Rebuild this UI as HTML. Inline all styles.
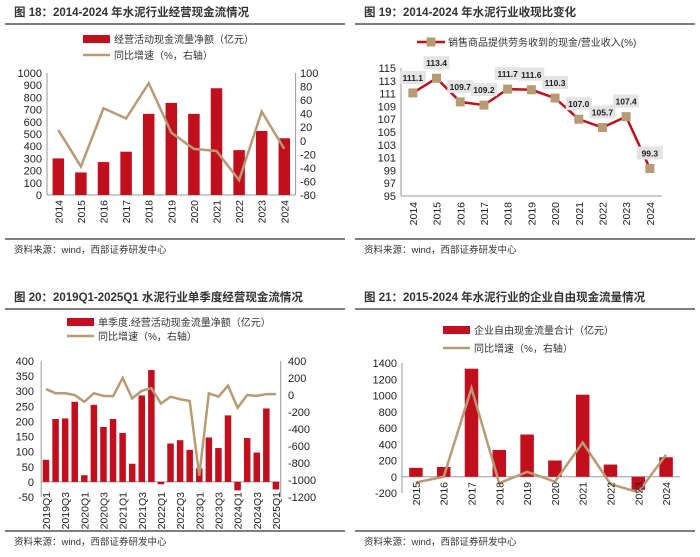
<!DOCTYPE html>
<html><head><meta charset="utf-8"><style>
body{margin:0;background:#fff;}
svg{display:block;font-family:"Liberation Sans","Noto Sans CJK SC",sans-serif;}
</style></head><body>
<svg id="c" width="700" height="557" viewBox="0 0 700 557"></svg>
<script>
// ---- data ----
const years1 = ["2014","2015","2016","2017","2018","2019","2020","2021","2022","2023","2024"];
const cash1 = [300,185,270,355,665,755,665,875,368,525,465];
const growth1 = [16,-38,48,33,85,12,-12,-15,-58,43,-12];
const leftTicks1 = [0,100,200,300,400,500,600,700,800,900,1000];
const rightTicks1 = [-80,-60,-40,-20,0,20,40,60,80,100];

const ratio2 = [111.1,113.4,109.7,109.2,111.7,111.6,110.3,107.0,105.7,107.4,99.3];
const ticks2 = [95,97,99,101,103,105,107,109,111,113,115];

const quarters3 = ["2019Q1","2019Q2","2019Q3","2019Q4","2020Q1","2020Q2","2020Q3","2020Q4","2021Q1","2021Q2","2021Q3","2021Q4","2022Q1","2022Q2","2022Q3","2022Q4","2023Q1","2023Q2","2023Q3","2023Q4","2024Q1","2024Q2","2024Q3","2024Q4","2025Q1"];
const cash3 = [73,208,210,265,22,255,182,208,162,60,286,370,-8,127,138,106,45,147,112,220,-28,145,97,243,-25];
const growth3 = [70,20,20,0,-80,20,-10,-15,200,-40,50,80,-100,-20,-50,-70,-950,20,-20,110,-150,0,-10,10,10];
const leftTicks3 = [-50,0,50,100,150,200,250,300,350,400];
const rightTicks3 = [-1200,-1000,-800,-600,-400,-200,0,200,400];

const years4 = ["2015","2016","2017","2018","2019","2020","2021","2022","2023","2024"];
const fcf4 = [110,120,1330,330,520,200,1010,150,-160,240];
const growth4 = [-70,0,1090,-80,60,-60,420,-90,-190,270];
const ticks4 = [-200,0,200,400,600,800,1000,1200,1400];

const RED="#c20f1e", TAN="#b89a74";
const svg=document.getElementById('c');
const NS="http://www.w3.org/2000/svg";
function mk(tag,attrs,parent){const e=document.createElementNS(NS,tag);for(const k in attrs)e.setAttribute(k,attrs[k]);(parent||svg).appendChild(e);return e;}
function txt(x,y,s,attrs,parent){const t=mk('text',Object.assign({x:x,y:y,'font-size':11,fill:'#222'},attrs||{}),parent);t.textContent=s;return t;}
function lin(d0,d1,r0,r1){return v=>r0+(v-d0)/(d1-d0)*(r1-r0);}

function frame(ox,oy,title,name){
  const g=mk('g',{});
  
  
  const t=txt(ox+14,oy+16,title,{'font-size':11.5,'font-weight':'bold',fill:'#333'},g);
  
  
  mk('line',{x1:ox+5,x2:ox+345,y1:oy+24,y2:oy+24,stroke:'#333','stroke-width':1.3},g);
  return g;
}
function footer(ox,y,g){
  mk('line',{x1:ox+5,x2:ox+345,y1:y,y2:y,stroke:'#333','stroke-width':1.3},g);
  const s=txt(ox+14,y+14,"资料来源：wind，西部证券研发中心",{'font-size':9.5,fill:'#333'},g);
  
  
}
function legend(x,y,type,label,g){
  const lg=mk('g',{},g);
  
  
  if(type==='bar') mk('rect',{x:x,y:y-4,width:27,height:8,fill:RED},lg);
  else if(type==='line') mk('line',{x1:x,x2:x+27,y1:y,y2:y,stroke:TAN,'stroke-width':2.5},lg);
  else {mk('line',{x1:x,x2:x+28,y1:y,y2:y,stroke:RED,'stroke-width':2.5},lg);mk('rect',{x:x+9.5,y:y-4.5,width:9,height:9,fill:TAN},lg);}
  txt(x+31,y+4,label,{'font-size':10,fill:'#333'},lg);
}
function yTicks(ticks,sy,x,anchor,g,name){
  ticks.forEach(v=>{const t=txt(x,sy(v)+4,String(v),{'font-size':11,'text-anchor':anchor},g);
    });
}
function xLabels(labels,cx,y,g,every){
  labels.forEach((l,i)=>{ if(i%every) return;
    const t=txt(0,0,l,{'font-size':10.5,'text-anchor':'end',transform:`translate(${cx(i)+4},${y}) rotate(-90)`},g);
    });
}
function bars(vals,cx,sy,w,g){
  vals.forEach((v,i)=>{const y0=sy(0),y1=sy(v);
    const r=mk('rect',{x:cx(i)-w/2,y:Math.min(y0,y1),width:w,height:Math.abs(y1-y0),fill:RED},g);
    });
}
function line(vals,cx,sy,color,w,g){
  const p=mk('polyline',{points:vals.map((v,i)=>cx(i)+','+sy(v)).join(' '),fill:'none',stroke:color,'stroke-width':w,'stroke-linejoin':'miter'},g);
  
  return p;
}

// ---- Panel 18 ----
(function(){
  const g=frame(0,0,"图 18：2014-2024 年水泥行业经营现金流情况","panel-fig18");
  legend(83,39,'bar',"经营活动现金流量净额（亿元）",g);
  legend(83,55,'line',"同比增速（%，右轴）",g);
  const x0=47,bw=22.6,cx=i=>x0+bw*(i+0.5);
  const sy=lin(0,1000,195,73), sr=lin(-80,100,195,73);
  mk('line',{x1:x0,x2:x0,y1:73,y2:195,stroke:'#999'},g);
  mk('line',{x1:x0+bw*11,x2:x0+bw*11,y1:73,y2:195,stroke:'#999'},g);
  mk('line',{x1:x0,x2:x0+bw*11,y1:195,y2:195,stroke:'#999'},g);
  yTicks(leftTicks1,sy,42,'end',g,'y-left-tick');
  yTicks(rightTicks1,sr,300,'start',g,'y-right-tick');
  bars(cash1,cx,sy,11.5,g);
  line(growth1,cx,sr,TAN,2.5,g);
  xLabels(years1,cx,200,g,1);
  footer(0,239,g);
})();

// ---- Panel 19 ----
(function(){
  const g=frame(350,0,"图 19：2014-2024 年水泥行业收现比变化","panel-fig19");
  legend(417,42,'marker',"销售商品提供劳务收到的现金/营业收入(%)",g);
  const x0=401,bw=23.7,cx=i=>x0+bw*(i+0.5);
  const sy=lin(95,115,196,68);
  mk('line',{x1:x0,x2:x0,y1:68,y2:196,stroke:'#999'},g);
  mk('line',{x1:x0,x2:x0+bw*11,y1:196,y2:196,stroke:'#999'},g);
  yTicks(ticks2,sy,396,'end',g,'y-tick');
  const p=line(ratio2,cx,sy,RED,2.5,g);
  
  ratio2.forEach((v,i)=>{
    const m=mk('rect',{x:cx(i)-4.5,y:sy(v)-4.5,width:9,height:9,fill:TAN},g);
    
    const ly=sy(v)-14;
    mk('rect',{x:cx(i)-13,y:ly-8,width:26,height:13,fill:'#e4e4e4'},g);
    const t=txt(cx(i),ly+2,v.toFixed(1),{'font-size':8.5,'font-weight':'bold','text-anchor':'middle'},g);
    
  });
  xLabels(years1,cx,202,g,1);
  footer(350,239,g);
})();

// ---- Panel 20 ----
(function(){
  const g=frame(0,285,"图 20：2019Q1-2025Q1 水泥行业单季度经营现金流情况","panel-fig20");
  legend(67,322,'bar',"单季度.经营活动现金流量净额（亿元）",g);
  legend(67,336,'line',"同比增速（%，右轴）",g);
  const x0=41.2,bw=9.58,cx=i=>x0+bw*(i+0.5);
  const sy=lin(-50,400,497,361), sr=lin(-1200,400,497,361);
  mk('line',{x1:x0,x2:x0,y1:361,y2:497,stroke:'#999'},g);
  mk('line',{x1:x0+bw*25,x2:x0+bw*25,y1:361,y2:497,stroke:'#999'},g);
  mk('line',{x1:x0,x2:x0+bw*25,y1:sy(0),y2:sy(0),stroke:'#999'},g);
  yTicks(leftTicks3,sy,34,'end',g,'y-left-tick');
  yTicks(rightTicks3,sr,288,'start',g,'y-right-tick');
  bars(cash3,cx,sy,6.5,g);
  line(growth3,cx,sr,TAN,2.5,g);
  xLabels(quarters3,cx,492,g,2);
  footer(0,531,g);
})();

// ---- Panel 21 ----
(function(){
  const g=frame(350,285,"图 21：2015-2024 年水泥行业的企业自由现金流量情况","panel-fig21");
  legend(443,330,'bar',"企业自由现金流量合计（亿元）",g);
  legend(443,348,'line',"同比增速（%，右轴）",g);
  const x0=402,bw=27.8,cx=i=>x0+bw*(i+0.5);
  const sy=lin(-200,1400,493,363);
  mk('line',{x1:x0,x2:x0,y1:363,y2:493,stroke:'#999'},g);
  mk('line',{x1:x0,x2:x0+bw*10,y1:sy(0),y2:sy(0),stroke:'#999'},g);
  yTicks(ticks4,sy,397,'end',g,'y-tick');
  bars(fcf4,cx,sy,13.5,g);
  line(growth4,cx,sy,TAN,2.5,g);
  xLabels(years4,cx,482,g,1);
  footer(350,531,g);
})();
</script>
</body></html>
